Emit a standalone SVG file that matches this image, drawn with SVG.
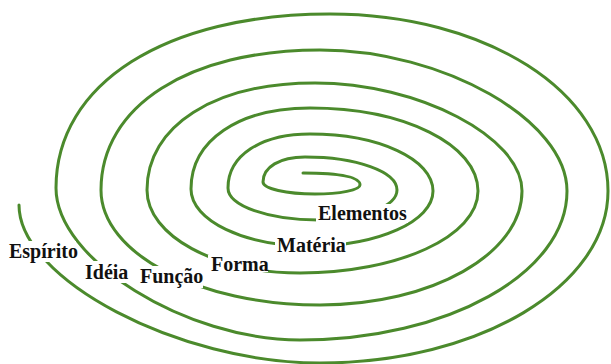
<svg xmlns="http://www.w3.org/2000/svg" width="611" height="364" viewBox="0 0 611 364">
<style>
.sp{fill:none;stroke:#4b8a2c;stroke-width:3;stroke-linecap:round;stroke-linejoin:round}
.lb{font-family:"Liberation Serif","Times New Roman",serif;font-weight:bold;font-size:20px;fill:#111}
</style>
<defs>
<mask id="gaps" maskUnits="userSpaceOnUse" x="0" y="0" width="611" height="364">
<rect x="0" y="0" width="611" height="364" fill="#fff"/>
<rect x="7" y="241" width="69" height="21" fill="#000"/>
<rect x="83" y="261" width="46" height="22" fill="#000"/>
<rect x="138" y="266" width="65" height="22" fill="#000"/>
<rect x="208" y="255" width="60" height="17" fill="#000"/>
<rect x="275" y="236" width="71" height="20" fill="#000"/>
<rect x="316" y="204" width="92" height="19" fill="#000"/>
</mask>
</defs>
<rect width="611" height="364" fill="#fff"/>
<g id="spiral" mask="url(#gaps)">
<path class="sp" d="M303,173 C330,173 360,175 360,185
C360,190 339.9,194 315,194
C286.3,194 263,188.6 263,182
C263,167 279.8,157 305,157
C356.5,157 397,171.5 397,190
C397,206.6 361.6,220 318,220
C268.3,220 228,205.7 228,188
C228,155.6 260.8,134 310,134
C378.9,134 433,159.1 433,191
C433,221.4 377.9,246 310,246
C244.3,246 191,220.5 191,189
C191,140.4 238.6,108 310,108
C404.1,108 478,144.5 478,191
C478,236.3 398.3,273 300,273
C215.5,273 147,235.8 147,190
C147,125.8 214.2,83 315,83
C418.5,83 522,137 522,191
C522,254 431.6,305 320,305
C199,305 101,253.5 101,190
C101,106 188.6,50 320,50
C443.5,50 567,120.5 567,191
C567,273.3 447.5,340 300,340
C185.3,340 56,259.4 56,188
C56,83.6 165.6,14 330,14
C485.7,14 608,91.9 608,191
C608,286 479,363 320,363
C178.5,363 19,279.3 19,205"/>
</g>
<g id="label-espirito"><text class="lb" x="9" y="258">Espírito</text></g>
<g id="label-ideia"><text class="lb" x="85" y="279">Idéia</text></g>
<g id="label-funcao"><text class="lb" x="140" y="283">Função</text></g>
<g id="label-forma"><text class="lb" x="211" y="271">Forma</text></g>
<g id="label-materia"><text class="lb" x="277" y="252">Matéria</text></g>
<g id="label-elementos"><text class="lb" x="318" y="220">Elementos</text></g>
</svg>
